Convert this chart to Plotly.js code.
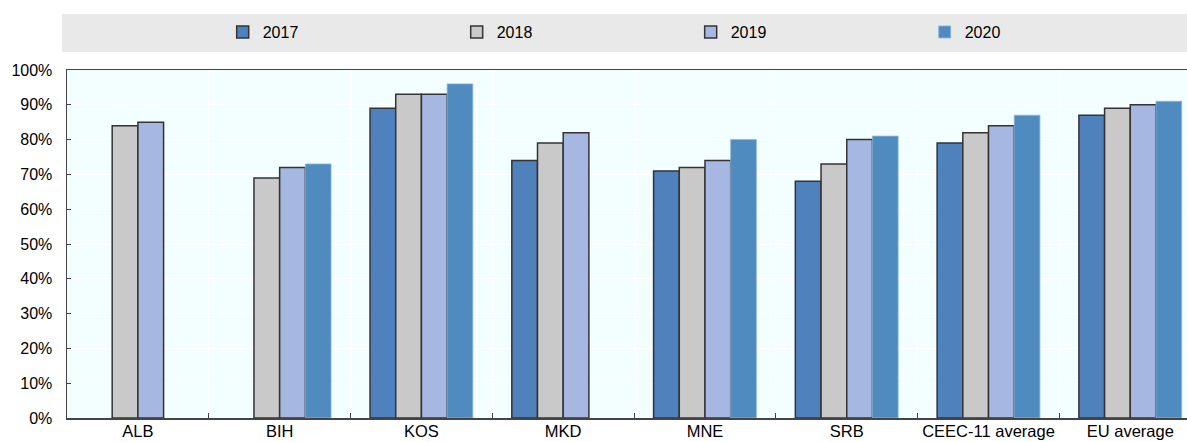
<!DOCTYPE html>
<html>
<head>
<meta charset="utf-8">
<script src="https://cdn.plot.ly/plotly-3.0.1.min.js"></script>
<style>
html,body{margin:0;padding:0;background:#fff;overflow:hidden;}
#chart{width:1187px;height:442px;}
</style>
</head>
<body>
<div id="chart"></div>
<script>
const categories = ["ALB", "BIH", "KOS", "MKD", "MNE", "SRB", "CEEC-11 average", "EU average"];
const v2017 = [null, null, 89, 74, 71, 68, 79, 87];
const v2018 = [84, 69, 93, 79, 72, 73, 82, 89];
const v2019 = [85, 72, 93, 82, 74, 80, 84, 90];
const v2020 = [null, 73, 96, null, 80, 81, 87, 91];
const seriesNames = ["2017", "2018", "2019", "2020"];

const fillColors = ["#4F81BD", "#C9C9C9", "#A6B8E2", "#4F8BBF"];
const lineColors = ["#333333", "#333333", "#333333", "#8DB6DA"];
const lineWidths = [1.5, 1.5, 1.5, 0.8];
const allValues = [v2017, v2018, v2019, v2020];

const FONT = '"Liberation Sans", Arial, Helvetica, sans-serif';

const traces = allValues.map((vals, i) => ({
  type: 'bar',
  name: seriesNames[i],
  x: categories,
  y: vals.map(v => v === null ? null : v / 100),
  marker: {color: fillColors[i], line: {color: lineColors[i], width: lineWidths[i]}},
  hoverinfo: 'x+y+name'
}));

const layout = {
  width: 1187,
  height: 442,
  margin: {l: 67, r: 0, t: 70, b: 24},
  paper_bgcolor: '#FFFFFF',
  plot_bgcolor: '#F2FEFF',
  font: {family: FONT, size: 15, color: '#000000'},
  barmode: 'group',
  bargap: 0.275,
  bargroupgap: 0,
  showlegend: true,
  legend: {
    orientation: 'h',
    x: 0.139, xanchor: 'left',
    y: 1.109, yanchor: 'middle',
    bgcolor: 'rgba(0,0,0,0)',
    borderwidth: 0,
    entrywidth: 189, entrywidthmode: 'pixels',
    itemwidth: 30,
    font: {family: FONT, size: 16, color: '#000'},
    traceorder: 'normal'
  },
  xaxis: {
    type: 'category',
    range: [-0.5, 7.4],
    tickson: 'boundaries',
    tickangle: 0,
    ticks: 'inside',
    ticklen: 5,
    tickcolor: '#444',
    showgrid: true,
    gridcolor: '#FFFFFF',
    gridwidth: 1,
    showline: true,
    linecolor: '#444',
    linewidth: 1.5,
    mirror: true,
    automargin: false,
    ticklabelstandoff: -2,
    tickfont: {family: FONT, size: 16.5, color: '#000'},
    fixedrange: true
  },
  yaxis: {
    range: [0, 1],
    tickvals: [0, 0.1, 0.2, 0.3, 0.4, 0.5, 0.6, 0.7, 0.8, 0.9, 1.0],
    tickformat: '.0%',
    ticks: 'inside',
    ticklen: 4,
    tickcolor: '#444',
    showgrid: true,
    gridcolor: '#FFFFFF',
    gridwidth: 1,
    showline: true,
    linecolor: '#444',
    linewidth: 1.5,
    mirror: true,
    zeroline: false,
    ticklabelstandoff: 10,
    tickfont: {family: FONT, size: 16, color: '#000'},
    fixedrange: true
  },
  shapes: [{
    type: 'rect', xref: 'paper', yref: 'paper',
    x0: -0.0045, x1: 1.0, y0: 1.052, y1: 1.161,
    fillcolor: '#E9E9E9', line: {width: 0}, layer: 'below'
  }]
};

Plotly.newPlot('chart', traces, layout, {staticPlot: true, displayModeBar: false});
</script>
</body>
</html>
